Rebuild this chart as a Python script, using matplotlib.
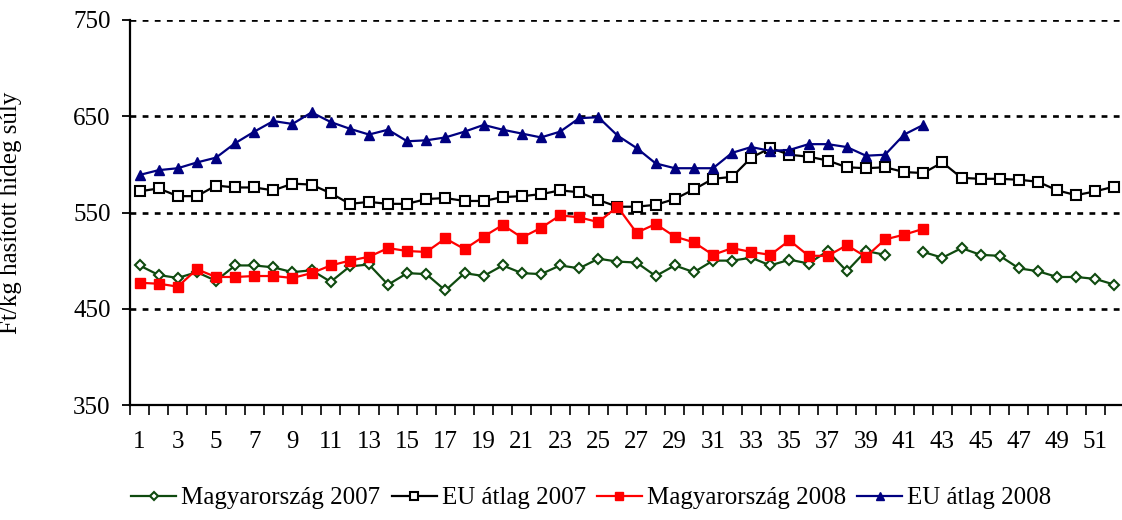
import numpy as np
import matplotlib
matplotlib.use('Agg')
import matplotlib.pyplot as plt
from matplotlib.ticker import FixedLocator, NullFormatter

plt.rcParams['font.family'] = ['Liberation Serif', 'DejaVu Serif']

nan = np.nan
weeks = list(range(1, 53))

hu_2007 = [495, 485, 482, 488, 479, 495, 495, 493, 488, 490, 478, 494, 496,
           475, 487, 486, 469, 487, 484, 495, 487, 486, 495, 492, 502, 499,
           498, 484, 495, 488, 500, 500, 503, 495, 501, 497, 510, 489, 510, 506,
           nan, 509, 503, 513, 506, 505, 492, 489, 483, 483, 481, 475]
eu_2007 = [572, 575, 567, 567, 578, 576, 576, 573, 580, 579, 570, 559, 561,
           559, 559, 564, 565, 562, 562, 566, 567, 569, 573, 571, 563, 556,
           556, 558, 564, 574, 585, 587, 607, 617, 610, 608, 604, 597, 596, 597,
           592, 591, 602, 586, 585, 585, 584, 582, 573, 568, 572, 577]
hu_2008 = [477, 476, 473, 491, 483, 483, 484, 484, 482, 487, 495, 500, 504,
           513, 510, 509, 523, 512, 525, 537, 524, 534, 547, 545, 540, 556,
           529, 538, 525, 519, 506, 513, 509, 506, 521, 505, 505, 516, 504, 522,
           527, 533] + [nan] * 10
eu_2008 = [589, 594, 596, 602, 607, 622, 634, 645, 642, 654, 644, 637, 631,
           636, 624, 625, 628, 634, 641, 636, 632, 628, 634, 648, 649, 630,
           617, 601, 596, 596, 596, 612, 618, 614, 615, 621, 621, 618, 609, 610,
           631, 641] + [nan] * 10

y_ticks = [350, 450, 550, 650, 750]

fig = plt.figure(figsize=(11.22, 5.2), dpi=100)
ax = fig.add_axes([130 / 1122, 115 / 520, 994 / 1122, 385 / 520])

# gridlines behind the series
for y in y_ticks[1:]:
    ax.axhline(y, color='black', lw=1.9, linestyle=(0, (2.2, 2.4)), zorder=1)

ax.plot(weeks, hu_2007, color='#0f4a0f', lw=1.6, marker='D', ms=5,
        mfc='white', mec='#0f4a0f', mew=1.5, label='Magyarország 2007', zorder=3)
ax.plot(weeks, eu_2007, color='black', lw=1.6, marker='s', ms=6.5,
        mfc='white', mec='black', mew=1.5, label='EU átlag 2007', zorder=3)
ax.plot(weeks, hu_2008, color='#ff0000', lw=1.6, marker='s', ms=7,
        mfc='#ff0000', mec='#ff0000', label='Magyarország 2008', zorder=4)
ax.plot(weeks, eu_2008, color='#000080', lw=1.6, marker='^', ms=7.5,
        mfc='#000080', mec='#000080', label='EU átlag 2008', zorder=4)

ax.set_xlim(0.5, 52.5)
ax.set_ylim(350, 750)
ax.set_yticks(y_ticks)
ax.tick_params(axis='y', direction='out', length=6, width=1.3, labelsize=18, pad=8)

ax.set_xticks(weeks)
ax.set_xticklabels([str(w) if w % 2 == 1 else '' for w in weeks])
ax.xaxis.set_minor_locator(FixedLocator(np.arange(0.5, 53, 1)))
ax.xaxis.set_minor_formatter(NullFormatter())
ax.tick_params(axis='x', which='major', length=0, labelsize=18, pad=19)
ax.tick_params(axis='x', which='minor', direction='out', length=7, width=1.2)

for side in ['top', 'right']:
    ax.spines[side].set_visible(False)
ax.spines['left'].set_linewidth(1.6)
ax.spines['bottom'].set_linewidth(1.6)

ax.set_ylabel('Ft/kg hasított hideg súly', fontsize=18)
ax.yaxis.set_label_coords(-108 / 994, 0.5)

fig.legend(loc='center', bbox_to_anchor=(0.527, 0.042), ncol=4, frameon=False,
           fontsize=18, handlelength=1.8, handletextpad=0.2, columnspacing=0.45,
           markerscale=0.8)

fig.savefig('out.png', dpi=100)
